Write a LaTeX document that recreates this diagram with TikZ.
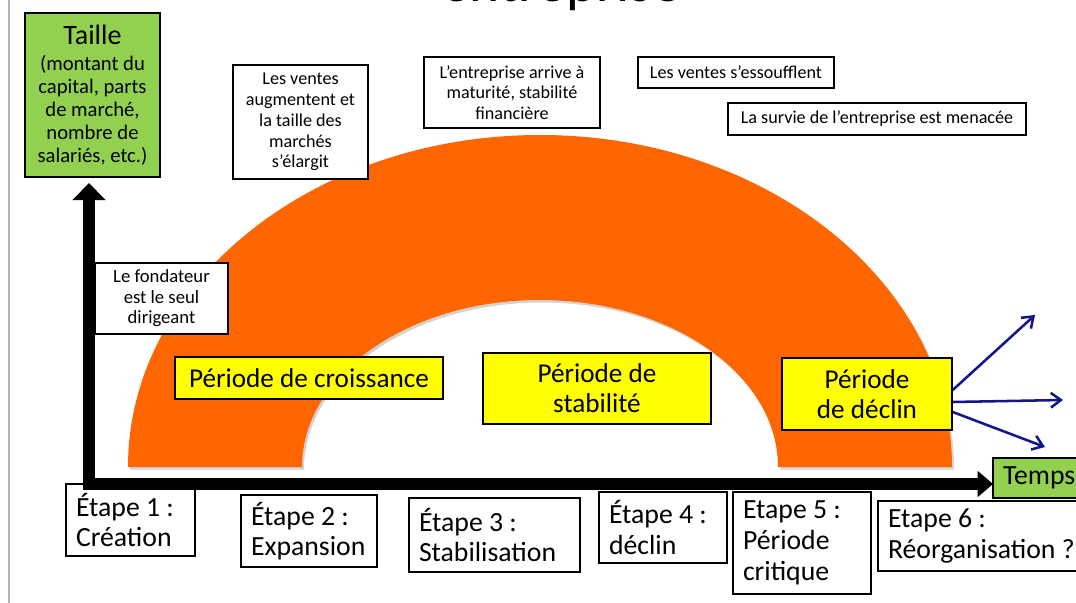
\documentclass[tikz,border=0pt]{standalone}
\usepackage{fontspec}
\setmainfont{Carlito}
\usetikzlibrary{arrows.meta}
\definecolor{vert}{HTML}{92D050}
\definecolor{orangearc}{HTML}{FF6600}
\definecolor{jaune}{HTML}{FFFF00}
\definecolor{bleu}{RGB}{20,20,140}
\definecolor{bord}{HTML}{B4B4B4}
\begin{document}
\begin{tikzpicture}[x=0.75pt,y=-0.75pt,
  box/.style={draw=black, line width=1.1pt, inner sep=0pt, align=center},
  sz/.style 2 args={minimum width={#1*0.75pt}, minimum height={#2*0.75pt}},
  petit/.style={font=\fontsize{13.6}{15.6}\selectfont},
  periode/.style={box, fill=jaune, font=\fontsize{20.4}{22.5}\selectfont},
  etape/.style={draw=black, line width=1.1pt, fill=white, inner xsep=7.5pt, inner ysep=0pt, align=flush left, font=\fontsize{20.8}{23}\selectfont},
  axe/.style={line width=8.3pt, black},
  fleche/.style={bleu, line width=1.9pt, -{Straight Barb[length=7.5pt,width=11pt,line width=1.9pt]}}
]
\useasboundingbox (0,0) rectangle (1076,603);
\fill[white] (0,0) rectangle (1076,603);
% slide border
\draw[bord, line width=1.2pt] (9,0) -- (9,603);
% title (cut off at the top edge, as in the reference)
\node[anchor=base west, inner sep=0pt, font=\fontsize{43}{45}\selectfont] (titre) at (441,2) {entreprise};
% arch shadow and arch
\fill[gray!35] (130,469.5) arc[start angle=180, end angle=360, x radius=412, y radius=332]
  -- (780,469.5) arc[start angle=0, end angle=-180, x radius=238, y radius=167] -- cycle;
\fill[orangearc] (128,467) arc[start angle=180, end angle=360, x radius=412, y radius=332]
  -- (778,467) arc[start angle=0, end angle=-180, x radius=238, y radius=167] -- cycle;
% top boxes
\node[box, fill=vert, sz={135}{164}, font=\fontsize{15.5}{17.2}\selectfont] (taille) at (92.5,95)
  {{\fontsize{21}{21}\selectfont Taille}\\[2.5pt](montant du\\capital, parts\\de marché,\\nombre de\\salariés, etc.)};
\node[box, fill=white, sz={135}{114}, petit] (ventes) at (300.5,122)
  {Les ventes\\augmentent et\\la taille des\\marchés\\s’élargit};
\node[box, fill=white, sz={176}{71}, petit] (maturite) at (512,92.5)
  {L’entreprise arrive à\\maturité, stabilité\\financière};
\node[box, fill=white, sz={196}{31}, petit] (essouf) at (736,72.5) {Les ventes s’essoufflent};
\node[box, fill=white, sz={298}{32}, petit] (survie) at (877,119) {La survie de l’entreprise est menacée};
\node[box, fill=white, sz={133}{71}, font=\fontsize{14}{15.4}\selectfont] (fondateur) at (161.5,298.5)
  {Le fondateur\\est le seul\\dirigeant};
% periods
\node[periode, sz={268}{42}] (croissance) at (309,378) {Période de croissance};
\node[periode, sz={228}{71}] (stabilite) at (597,388.5) {Période de\\stabilité};
\node[periode, sz={170}{72}, font=\fontsize{20.4}{23}\selectfont] (declin) at (867,394) {Période\\de déclin};
% stage boxes
\node[etape, text width=81.75pt, sz={129}{72}] (e1) at (130.5,520) {Étape 1 :\\Création};
\node[etape, text width=87pt, sz={136}{72}] (e2) at (309,531) {Étape 2 :\\Expansion};
\node[etape, text width=113.25pt, sz={171}{74}] (e3) at (494.5,535) {Étape 3 :\\Stabilisation};
\node[etape, text width=81pt, sz={128}{71}] (e4) at (663,527.5) {Étape 4 :\\déclin};
\node[etape, text width=88.5pt, sz={138}{102}] (e5) at (802,543) {Etape 5 :\\Période\\critique};
\node[etape, text width=144pt, sz={212}{70}] (e6) at (984,536) {Etape 6 :\\Réorganisation ?};
\node[etape, fill=vert, text width=72.75pt, sz={117}{40}] (temps) at (1051.5,478) {Temps};
% axes
\coordinate (oy) at (89,489.5);
\coordinate (ytop) at (89,183);
\coordinate (ox) at (83.5,484);
\coordinate (xend) at (993,484);
\draw[axe, -{Triangle[length=12.75pt,width=24pt]}] (oy) -- (ytop);
\draw[axe, -{Triangle[length=11.5pt,width=19pt]}] (ox) -- (xend);
% blue arrows
\coordinate (f1) at (1035,315);
\coordinate (f2) at (1063,400);
\coordinate (f3) at (1045,447);
\draw[fleche] ([yshift=3pt]declin.east) -- (f1);
\draw[fleche] ([yshift=-6pt]declin.east) -- (f2);
\draw[fleche] ([yshift=-13.5pt]declin.east) -- (f3);
\end{tikzpicture}
\end{document}
